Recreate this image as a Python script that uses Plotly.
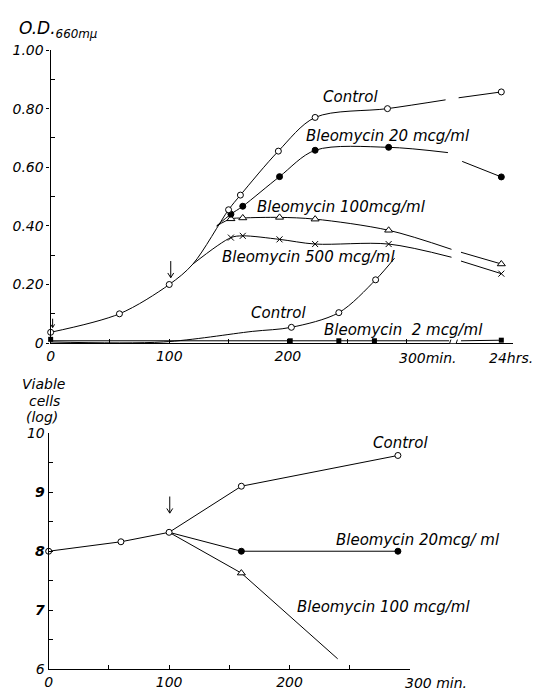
import plotly.graph_objects as go

W, H = 537, 697
FONT = "DejaVu Sans"

# ---------------- top panel: O.D. 660 mμ vs time (min); 24 hrs drawn at 380 beyond the axis break
T24 = 380

ctrl_t = [0, 58, 100, 150, 160, 192, 223, 284, T24]
ctrl_od = [0.037, 0.10, 0.20, 0.455, 0.505, 0.655, 0.77, 0.80, 0.857]
ctrl_path_t = [0, 58, 100, 120, 150, 160, 192, 223, 284, 333]
ctrl_path_od = [0.037, 0.10, 0.20, 0.27, 0.455, 0.505, 0.655, 0.77, 0.80, 0.83]
ctrl_tail_t = [344, T24]
ctrl_tail_od = [0.837, 0.857]

b20_t = [152, 162, 193, 223, 285, T24]
b20_od = [0.44, 0.467, 0.568, 0.658, 0.668, 0.567]
b20_path_t = [140, 152, 162, 193, 223, 285, 335]
b20_path_od = [0.40, 0.44, 0.467, 0.568, 0.658, 0.668, 0.65]
b20_tail_t = [347, T24]
b20_tail_od = [0.62, 0.567]

b100_t = [152, 162, 193, 223, 285, T24]
b100_od = [0.424, 0.427, 0.429, 0.423, 0.385, 0.27]
b100_path_t = [140, 152, 162, 193, 223, 285, 338]
b100_path_od = [0.40, 0.424, 0.427, 0.429, 0.423, 0.385, 0.32]
b100_tail_t = [346, T24]
b100_tail_od = [0.31, 0.27]

b500_t = [152, 162, 193, 223, 285, T24]
b500_od = [0.36, 0.366, 0.354, 0.338, 0.338, 0.237]
b500_path_t = [120, 152, 162, 193, 223, 285, 338]
b500_path_od = [0.27, 0.36, 0.366, 0.354, 0.338, 0.338, 0.293]
b500_tail_t = [346, T24]
b500_tail_od = [0.28, 0.237]

lowctrl_t = [203, 243, 274]
lowctrl_od = [0.054, 0.104, 0.216]
lowctrl_path_t = [0, 95, 170, 203, 243, 274, 290]
lowctrl_path_od = [0.004, 0.004, 0.04, 0.054, 0.104, 0.216, 0.29]

b2_t = [0, 202, 243, 273, T24]
b2_od = [0.013, 0.008, 0.008, 0.008, 0.01]
b2_path_t = [0, 202, 243, 273, 336]
b2_path_od = [0.008, 0.008, 0.008, 0.008, 0.008]
b2_tail_t = [346, T24]
b2_tail_od = [0.008, 0.01]

top_xticks = [0, 100, 200]
top_xticktext = ["0", "100", "200"]
top_xminor = [50, 150, 250, 300]
top_yticks = [0, 0.2, 0.4, 0.6, 0.8, 1.0]
top_yticktext = ["0", "0.20", "0.40", "0.60", "0.80", "1.00"]
top_yminor = [0.1, 0.3, 0.5, 0.7, 0.9]

# ---------------- bottom panel: viable cells (log) vs time (min)
v_ctrl_t = [0, 60, 100, 160, 290]
v_ctrl = [8.0, 8.16, 8.32, 9.1, 9.62]
v_b20_t = [100, 160, 290]
v_b20 = [8.32, 8.0, 8.0]
v_b100_t = [100, 160, 240]
v_b100 = [8.32, 7.63, 6.18]

bot_xticks = [0, 100, 200]
bot_xticktext = ["0", "100", "200"]
bot_xminor = [50, 150, 250, 300]
bot_yticks = [6, 7, 8, 9, 10]
bot_yticktext = ["<i>6</i>", "<b>7</b>", "<b>8</b>", "<b>9</b>", "<i>10</i>"]
bot_yminor = [6.5, 7.5, 8.5, 9.5]

fig = go.Figure()

def add_line(x, y, xa="x", ya="y", spline=True):
    fig.add_trace(go.Scatter(
        x=x, y=y, mode="lines", xaxis=xa, yaxis=ya, cliponaxis=False,
        line=dict(color="black", width=1, shape="spline" if spline else "linear", smoothing=0.9),
        hoverinfo="skip"))

OPEN_C = dict(symbol="circle", size=6, color="white", line=dict(color="black", width=1))
FILL_C = dict(symbol="circle", size=6, color="black", line=dict(color="black", width=1))
TRI = dict(symbol="triangle-up", size=7, color="white", line=dict(color="black", width=1))
XM = dict(symbol="x-thin-open", size=6, color="black", line=dict(color="black", width=1))
SQ = dict(symbol="square", size=5, color="black", line=dict(color="black", width=0))

def add_markers(x, y, m, xa="x", ya="y"):
    fig.add_trace(go.Scatter(x=x, y=y, mode="markers", xaxis=xa, yaxis=ya,
                             cliponaxis=False, marker=m, hoverinfo="skip"))

# top lines
add_line(b2_path_t, b2_path_od, spline=False)
add_line(b2_tail_t, b2_tail_od, spline=False)
add_line(lowctrl_path_t, lowctrl_path_od)
add_line(b500_path_t, b500_path_od)
add_line(b500_tail_t, b500_tail_od, spline=False)
add_line(b100_path_t, b100_path_od)
add_line(b100_tail_t, b100_tail_od, spline=False)
add_line(b20_path_t, b20_path_od)
add_line(b20_tail_t, b20_tail_od, spline=False)
add_line(ctrl_path_t, ctrl_path_od)
add_line(ctrl_tail_t, ctrl_tail_od, spline=False)
# top markers
add_markers(b2_t, b2_od, SQ)
add_markers(lowctrl_t, lowctrl_od, OPEN_C)
add_markers(b500_t, b500_od, XM)
add_markers(b100_t, b100_od, TRI)
add_markers(b20_t, b20_od, FILL_C)
add_markers(ctrl_t, ctrl_od, OPEN_C)

# bottom
add_line(v_b100_t, v_b100, "x2", "y2", spline=False)
add_line(v_b20_t, v_b20, "x2", "y2", spline=False)
add_line(v_ctrl_t, v_ctrl, "x2", "y2", spline=False)
add_markers(v_b100_t[1:2], v_b100[1:2], TRI, "x2", "y2")
add_markers(v_b20_t[1:], v_b20[1:], FILL_C, "x2", "y2")
add_markers(v_ctrl_t, v_ctrl, OPEN_C, "x2", "y2")

tickfont = dict(family=FONT, size=14, color="black", style="italic")
axcommon = dict(showgrid=False, zeroline=False, showline=True, linecolor="black",
                linewidth=1.3, tickcolor="black", tickwidth=1, tickmode="array",
                tickfont=tickfont, fixedrange=True)

def minor(vals, ticks="inside"):
    return dict(tickmode="array", tickvals=vals, ticks=ticks, ticklen=4,
                tickcolor="black", tickwidth=1, showgrid=False)

fig.update_layout(
    width=W, height=H, autosize=False,
    margin=dict(l=0, r=0, t=0, b=0),
    paper_bgcolor="white", plot_bgcolor="white", showlegend=False,
    font=dict(family=FONT, color="black"),
    xaxis=dict(domain=[47 / W, 513 / W], range=[0, 390], anchor="y",
               tickvals=top_xticks, ticktext=top_xticktext, ticks="inside", ticklen=4,
               minor=minor(top_xminor), **axcommon),
    yaxis=dict(domain=[(H - 343) / H, (H - 43) / H], range=[0, 1.0], anchor="x",
               tickvals=top_yticks, ticktext=top_yticktext, ticks="outside", ticklen=3,
               minor=minor(top_yminor), **axcommon),
    xaxis2=dict(domain=[45 / W, 409 / W], range=[0, 300], anchor="y2",
                tickvals=bot_xticks, ticktext=bot_xticktext, ticks="inside", ticklen=4,
                minor=minor(bot_xminor), **axcommon),
    yaxis2=dict(domain=[(H - 677) / H, (H - 435) / H], range=[6, 10], anchor="x2",
                tickvals=bot_yticks, ticktext=bot_yticktext, ticks="inside", ticklen=4,
                minor=minor(bot_yminor), **axcommon),
)

def px_ann(text, px, py, size=14, xanchor="center", italic=True):
    fig.add_annotation(text=text, x=px / W, y=1 - py / H, xref="paper", yref="paper",
                       showarrow=False, xanchor=xanchor, yanchor="middle",
                       font=dict(family=FONT, size=size, color="black",
                                 style="italic" if italic else "normal"))

# top panel labels
px_ann("O.D.<sub>660mμ</sub>", 13, 22, size=17, xanchor="left")
px_ann("Control", 349, 91, 15)
px_ann("Bleomycin 20 mcg/ml", 387, 131, 15)
px_ann("Bleomycin 100mcg/ml", 340, 204, 15)
px_ann("Bleomycin 500 mcg/ml", 307, 255, 15)
px_ann("Control", 277, 312, 15)
px_ann("Bleomycin  2 mcg/ml", 402, 330, 15)
px_ann("300min.", 396, 358, 14, xanchor="left")
px_ann("24hrs.", 487, 358, 14, xanchor="left")

# bottom panel labels
px_ann("Viable", 40, 385, 14)
px_ann("cells", 41, 402, 14)
px_ann("(log)", 38, 419, 14)
px_ann("Control", 399, 445, 15)
px_ann("Bleomycin 20mcg/ ml", 417, 544, 15)
px_ann("Bleomycin 100 mcg/ml", 382, 613, 15)
px_ann("300 min.", 402, 691, 14, xanchor="left")

# down arrows (time of drug addition) drawn as thin paper-coordinate strokes
def arrow(px, py0, py1, head=3):
    fx = lambda v: v / W
    fy = lambda v: 1 - v / H
    fig.add_shape(type="line", xref="paper", yref="paper", x0=fx(px), x1=fx(px),
                  y0=fy(py0), y1=fy(py1), line=dict(color="black", width=1))
    fig.add_shape(type="path", xref="paper", yref="paper",
                  path=f"M {fx(px - head)} {fy(py1 - head * 1.6)} L {fx(px)} {fy(py1)} L {fx(px + head)} {fy(py1 - head * 1.6)}",
                  line=dict(color="black", width=1))

arrow(168, 259, 276)
arrow(167, 500, 517)
arrow(49, 318, 327, head=2)

# axis break on the top time axis
fig.add_shape(type="rect", xref="x", yref="y", x0=336.5, x1=342, y0=-0.012, y1=0.012,
              fillcolor="white", line=dict(width=0), layer="above")
for xb in (336.5, 342):
    fig.add_shape(type="line", xref="x", yref="y", x0=xb - 1, x1=xb + 1, y0=-0.012, y1=0.012,
                  line=dict(color="black", width=1), layer="above")

fig.write_html("out.html", config={"displayModeBar": False},
               post_script="document.body.style.margin='0';")
